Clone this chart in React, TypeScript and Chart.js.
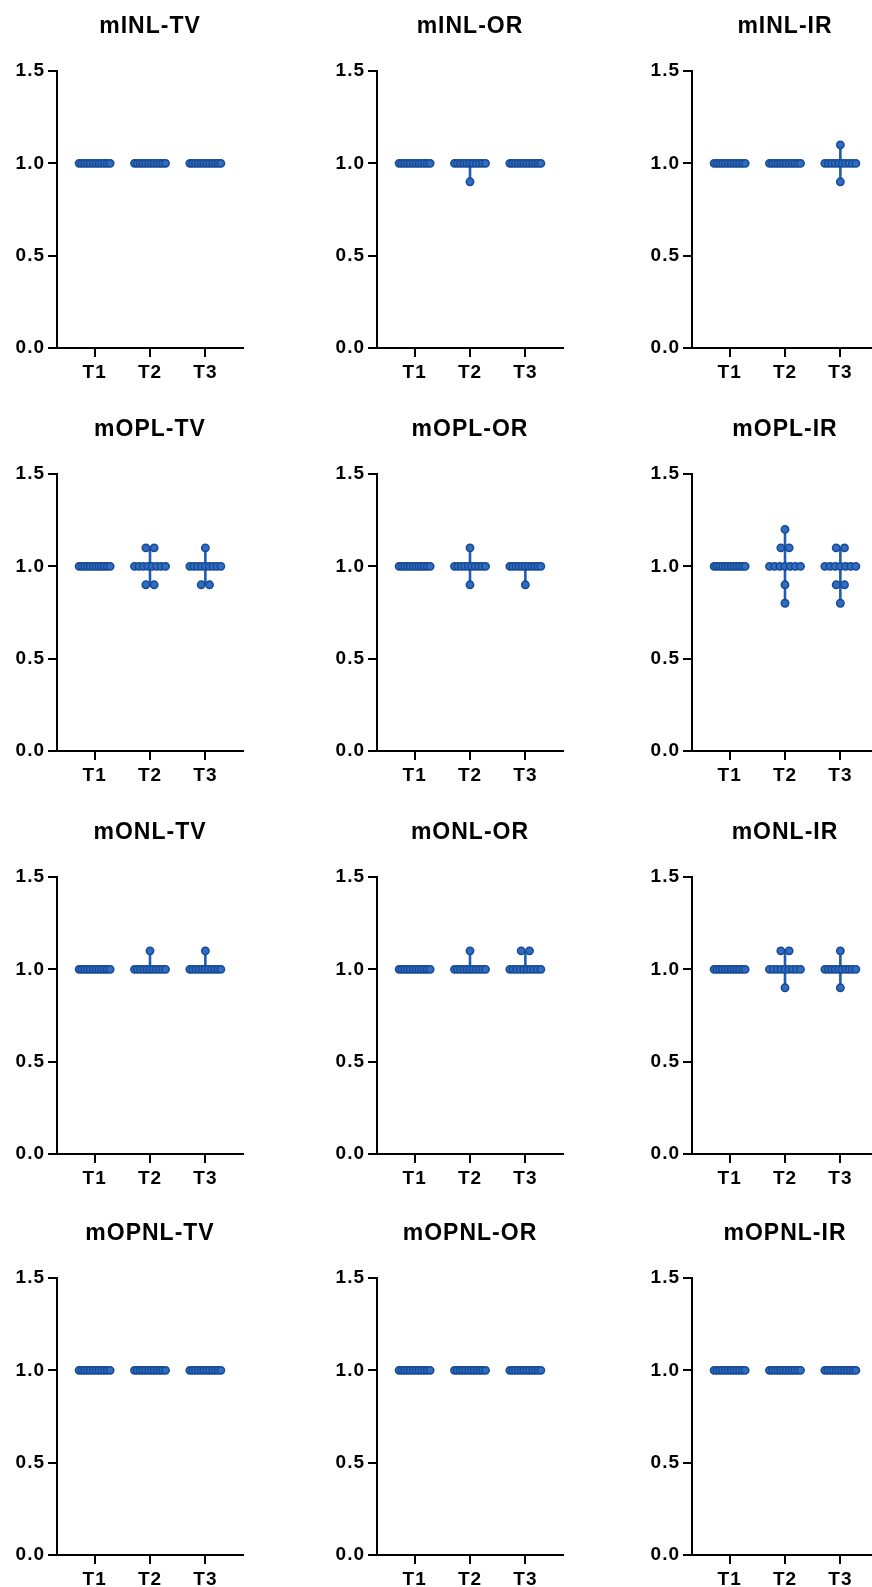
import React, { useEffect, useRef } from 'react';
import { Chart, registerables } from 'chart.js';

Chart.register(...registerables);

// ---------- data ----------
const categories = ['T1', 'T2', 'T3'];
const yTickValues = [0, 0.5, 1.0, 1.5];
const panelTitles = [
  'mINL-TV', 'mINL-OR', 'mINL-IR',
  'mOPL-TV', 'mOPL-OR', 'mOPL-IR',
  'mONL-TV', 'mONL-OR', 'mONL-IR',
  'mOPNL-TV', 'mOPNL-OR', 'mOPNL-IR',
];

// each panel: values for T1, T2, T3
const mINL_TV = [
  [1.0, 1.0, 1.0, 1.0, 1.0, 1.0, 1.0, 1.0, 1.0, 1.0, 1.0, 1.0],
  [1.0, 1.0, 1.0, 1.0, 1.0, 1.0, 1.0, 1.0, 1.0, 1.0, 1.0, 1.0],
  [1.0, 1.0, 1.0, 1.0, 1.0, 1.0, 1.0, 1.0, 1.0, 1.0, 1.0, 1.0],
];
const mINL_OR = [
  [1.0, 1.0, 1.0, 1.0, 1.0, 1.0, 1.0, 1.0, 1.0, 1.0, 1.0, 1.0],
  [0.9, 1.0, 1.0, 1.0, 1.0, 1.0, 1.0, 1.0, 1.0, 1.0, 1.0, 1.0],
  [1.0, 1.0, 1.0, 1.0, 1.0, 1.0, 1.0, 1.0, 1.0, 1.0, 1.0, 1.0],
];
const mINL_IR = [
  [1.0, 1.0, 1.0, 1.0, 1.0, 1.0, 1.0, 1.0, 1.0, 1.0, 1.0, 1.0],
  [1.0, 1.0, 1.0, 1.0, 1.0, 1.0, 1.0, 1.0, 1.0, 1.0, 1.0, 1.0],
  [1.1, 0.9, 1.0, 1.0, 1.0, 1.0, 1.0, 1.0, 1.0, 1.0, 1.0, 1.0],
];
const mOPL_TV = [
  [1.0, 1.0, 1.0, 1.0, 1.0, 1.0, 1.0, 1.0, 1.0, 1.0, 1.0, 1.0],
  [1.1, 1.1, 0.9, 0.9, 1.0, 1.0, 1.0, 1.0, 1.0, 1.0, 1.0, 1.0],
  [1.1, 0.9, 0.9, 1.0, 1.0, 1.0, 1.0, 1.0, 1.0, 1.0, 1.0, 1.0],
];
const mOPL_OR = [
  [1.0, 1.0, 1.0, 1.0, 1.0, 1.0, 1.0, 1.0, 1.0, 1.0, 1.0, 1.0],
  [1.1, 0.9, 1.0, 1.0, 1.0, 1.0, 1.0, 1.0, 1.0, 1.0, 1.0, 1.0],
  [0.9, 1.0, 1.0, 1.0, 1.0, 1.0, 1.0, 1.0, 1.0, 1.0, 1.0, 1.0],
];
const mOPL_IR = [
  [1.0, 1.0, 1.0, 1.0, 1.0, 1.0, 1.0, 1.0, 1.0, 1.0, 1.0, 1.0],
  [1.2, 1.1, 1.1, 0.9, 0.8, 1.0, 1.0, 1.0, 1.0, 1.0, 1.0, 1.0],
  [1.1, 1.1, 0.9, 0.9, 0.8, 1.0, 1.0, 1.0, 1.0, 1.0, 1.0, 1.0],
];
const mONL_TV = [
  [1.0, 1.0, 1.0, 1.0, 1.0, 1.0, 1.0, 1.0, 1.0, 1.0, 1.0, 1.0],
  [1.1, 1.0, 1.0, 1.0, 1.0, 1.0, 1.0, 1.0, 1.0, 1.0, 1.0, 1.0],
  [1.1, 1.0, 1.0, 1.0, 1.0, 1.0, 1.0, 1.0, 1.0, 1.0, 1.0, 1.0],
];
const mONL_OR = [
  [1.0, 1.0, 1.0, 1.0, 1.0, 1.0, 1.0, 1.0, 1.0, 1.0, 1.0, 1.0],
  [1.1, 1.0, 1.0, 1.0, 1.0, 1.0, 1.0, 1.0, 1.0, 1.0, 1.0, 1.0],
  [1.1, 1.1, 1.0, 1.0, 1.0, 1.0, 1.0, 1.0, 1.0, 1.0, 1.0, 1.0],
];
const mONL_IR = [
  [1.0, 1.0, 1.0, 1.0, 1.0, 1.0, 1.0, 1.0, 1.0, 1.0, 1.0, 1.0],
  [1.1, 1.1, 0.9, 1.0, 1.0, 1.0, 1.0, 1.0, 1.0, 1.0, 1.0, 1.0],
  [1.1, 0.9, 1.0, 1.0, 1.0, 1.0, 1.0, 1.0, 1.0, 1.0, 1.0, 1.0],
];
const mOPNL_TV = [
  [1.0, 1.0, 1.0, 1.0, 1.0, 1.0, 1.0, 1.0, 1.0, 1.0, 1.0, 1.0],
  [1.0, 1.0, 1.0, 1.0, 1.0, 1.0, 1.0, 1.0, 1.0, 1.0, 1.0, 1.0],
  [1.0, 1.0, 1.0, 1.0, 1.0, 1.0, 1.0, 1.0, 1.0, 1.0, 1.0, 1.0],
];
const mOPNL_OR = [
  [1.0, 1.0, 1.0, 1.0, 1.0, 1.0, 1.0, 1.0, 1.0, 1.0, 1.0, 1.0],
  [1.0, 1.0, 1.0, 1.0, 1.0, 1.0, 1.0, 1.0, 1.0, 1.0, 1.0, 1.0],
  [1.0, 1.0, 1.0, 1.0, 1.0, 1.0, 1.0, 1.0, 1.0, 1.0, 1.0, 1.0],
];
const mOPNL_IR = [
  [1.0, 1.0, 1.0, 1.0, 1.0, 1.0, 1.0, 1.0, 1.0, 1.0, 1.0, 1.0],
  [1.0, 1.0, 1.0, 1.0, 1.0, 1.0, 1.0, 1.0, 1.0, 1.0, 1.0, 1.0],
  [1.0, 1.0, 1.0, 1.0, 1.0, 1.0, 1.0, 1.0, 1.0, 1.0, 1.0, 1.0],
];

const panelData = [
  mINL_TV, mINL_OR, mINL_IR,
  mOPL_TV, mOPL_OR, mOPL_IR,
  mONL_TV, mONL_OR, mONL_IR,
  mOPNL_TV, mOPNL_OR, mOPNL_IR,
];

// ---------- style / layout ----------
const FONT = "'Liberation Sans', Arial, sans-serif";
const DOT_FILL = '#2f6cc2';
const DOT_EDGE = '#174a95';
const LINE_COLOR = '#1f5cae';
const DOT_STEP = 0.15; // x-units between neighbouring dots of equal value
const MAX_SPREAD = 0.56; // widest row of dots, in x-units
const MEDIAN_HALF = 0.28;
const COL_LEFT = [0, 320, 635];
const ROW_TOP = [0, 403, 806, 1207];
const CANVAS_W = 290;
const CANVAS_H = 403;

function spreadPoints(values: number[], center: number) {
  const counts = new Map<number, number>();
  values.forEach((v) => counts.set(v, (counts.get(v) || 0) + 1));
  const pts: { x: number; y: number }[] = [];
  counts.forEach((k, v) => {
    const step = k > 1 ? Math.min(DOT_STEP, MAX_SPREAD / (k - 1)) : 0;
    for (let i = 0; i < k; i++) pts.push({ x: center + (i - (k - 1) / 2) * step, y: v });
  });
  return pts;
}

function median(sorted: number[]) {
  const n = sorted.length;
  return n % 2 ? sorted[(n - 1) / 2] : (sorted[n / 2 - 1] + sorted[n / 2]) / 2;
}

const letterSpacingPlugin = {
  id: 'letterSpacing',
  beforeUpdate(chart: any) {
    chart.ctx.letterSpacing = '1px';
  },
  beforeLayout(chart: any) {
    chart.ctx.letterSpacing = '1px';
  },
  beforeDraw(chart: any) {
    chart.ctx.letterSpacing = '1px';
  },
};

function Panel({ title, groups, left, top }: { title: string; groups: number[][]; left: number; top: number }) {
  const ref = useRef<HTMLCanvasElement>(null);
  useEffect(() => {
    if (!ref.current) return;
    const points: { x: number; y: number }[] = [];
    const lineSets: any[] = [];
    groups.forEach((vals, gi) => {
      const c = gi + 1;
      points.push(...spreadPoints(vals, c));
      const sorted = [...vals].sort((a, b) => a - b);
      const med = median(sorted);
      const lineStyle = {
        showLine: true,
        borderColor: LINE_COLOR,
        borderWidth: 2.6,
        pointRadius: 0,
        pointHoverRadius: 0,
        order: 2,
      };
      lineSets.push({ ...lineStyle, data: [{ x: c, y: sorted[0] }, { x: c, y: sorted[sorted.length - 1] }] });
      lineSets.push({ ...lineStyle, data: [{ x: c - MEDIAN_HALF, y: med }, { x: c + MEDIAN_HALF, y: med }] });
    });
    const datasets = [
      {
        data: points,
        backgroundColor: DOT_FILL,
        borderColor: DOT_EDGE,
        borderWidth: 1.5,
        pointRadius: 3.7,
        pointHoverRadius: 3.7,
        order: 1,
      },
      ...lineSets,
    ];
    const axisGrid = { drawOnChartArea: false, drawTicks: true, tickLength: 9, color: '#000', lineWidth: 2 };
    const axisBorder = { display: true, color: '#000', width: 2 };
    const tickFont = { family: FONT, size: 19, weight: 'bold' as const };
    const chart = new Chart(ref.current, {
      type: 'scatter',
      data: { datasets },
      plugins: [letterSpacingPlugin],
      options: {
        responsive: false,
        animation: false,
        events: [],
        layout: { padding: { top: 0, right: 47, bottom: 0, left: 0 } },
        plugins: {
          legend: { display: false },
          tooltip: { enabled: false },
          title: {
            display: true,
            fullSize: false,
            text: title,
            color: '#000',
            font: { family: FONT, size: 23, weight: 'bold' },
            padding: { top: 13, bottom: 30.4 },
          },
        },
        scales: {
          x: {
            type: 'linear',
            min: 0.32,
            max: 3.68,
            afterBuildTicks: (s: any) => {
              s.ticks = categories.map((_, i) => ({ value: i + 1 }));
            },
            afterFit: (s: any) => {
              s.height = 55;
            },
            ticks: {
              callback: (v: any) => categories[Math.round(Number(v)) - 1] ?? '',
              color: '#000',
              font: tickFont,
              padding: 4,
              maxRotation: 0,
              autoSkip: false,
            },
            grid: axisGrid,
            border: axisBorder,
          },
          y: {
            type: 'linear',
            min: 0,
            max: 1.5,
            afterBuildTicks: (s: any) => {
              s.ticks = yTickValues.map((v) => ({ value: v }));
            },
            afterFit: (s: any) => {
              s.width = 57;
            },
            ticks: {
              callback: (v: any) => Number(v).toFixed(1),
              color: '#000',
              font: tickFont,
              padding: 3,
            },
            grid: axisGrid,
            border: axisBorder,
          },
        },
      },
    } as any);
    return () => chart.destroy();
  }, [title, groups]);
  return (
    <canvas
      ref={ref}
      width={CANVAS_W}
      height={CANVAS_H}
      style={{ position: 'absolute', left, top, width: CANVAS_W, height: CANVAS_H }}
    />
  );
}

export default function App() {
  return (
    <div
      style={{
        position: 'absolute',
        left: 0,
        top: 0,
        width: 872,
        height: 1587,
        overflow: 'hidden',
        background: '#fff',
      }}
    >
      {panelTitles.map((t, i) => (
        <Panel
          key={t}
          title={t}
          groups={panelData[i]}
          left={COL_LEFT[i % 3]}
          top={ROW_TOP[Math.floor(i / 3)]}
        />
      ))}
    </div>
  );
}
